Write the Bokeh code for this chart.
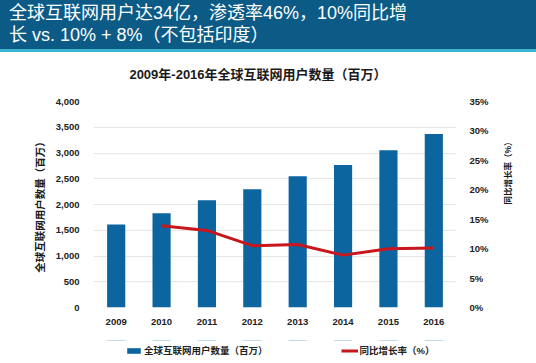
import math
from bokeh.plotting import figure
from bokeh.models import (Range1d, FactorRange, LinearAxis, SingleIntervalTicker,
                          NumeralTickFormatter, PrintfTickFormatter, Legend,
                          LegendItem, Div)
from bokeh.layouts import column
from bokeh.embed import file_html
from bokeh.resources import INLINE

# ---------------- data ----------------
years = ["2009", "2010", "2011", "2012", "2013", "2014", "2015", "2016"]
users = [1612, 1831, 2084, 2297, 2550, 2769, 3054, 3371]          # 百万
growth_years = ["2010", "2011", "2012", "2013", "2014", "2015", "2016"]
growth = [13.9, 13.1, 10.5, 10.7, 8.9, 10.0, 10.1]                 # %

header_lines = ["全球互联网用户达34亿，渗透率46%，10%同比增",
                "长 vs. 10% + 8%（不包括印度）"]
chart_title = "2009年-2016年全球互联网用户数量（百万）"
left_label = "全球互联网用户数量（百万）"
right_label = "同比增长率（%）"

# ---------------- style ----------------
W = 536
HEAD_H = 90
MAIN_H = 250
LEG_H = 363 - HEAD_H - MAIN_H
BAND = "#0c5b87"
STRIPE = "#3bb4d0"
BAR = "#0d65a0"
RED = "#c8161d"
GRID = "#e6e6e6"
FONT_H = "'Liberation Sans', 'Noto Sans CJK SC', sans-serif"
FONT_B = "'Liberation Sans', 'Noto Sans CJK SC', sans-serif"

# ---------------- header (band + chart title) ----------------
head_html = (
    f'<div style="background:{BAND}; height:52px; border-bottom:3px solid {STRIPE};'
    f' box-sizing:border-box; color:#ffffff; font-family:{FONT_H}; font-size:18px;'
    f' padding:2px 0 0 9px; width:{W}px;">'
    f'<div style="height:22px; line-height:22px;">{header_lines[0]}</div>'
    f'<div style="height:22px; line-height:22px;">{header_lines[1]}</div></div>'
    f'<div style="width:516px; text-align:center; margin-top:15px;'
    f' font-family:{FONT_B}; font-weight:bold; font-size:13px; line-height:16px;'
    f' color:#1a1a1a;">{chart_title}</div>'
)
head = Div(text=head_html, width=W, height=HEAD_H,
           styles={"margin": "0", "padding": "0"})

# ---------------- main chart ----------------
p = figure(width=W, height=MAIN_H, x_range=FactorRange(factors=years),
           y_range=Range1d(0, 4000), output_backend="svg", toolbar_location=None,
           min_border_left=93, min_border_right=80, min_border_top=11,
           min_border_bottom=MAIN_H - 11 - 206, outline_line_color=None)
p.background_fill_color = "white"
p.border_fill_color = "white"
p.extra_y_ranges = {"pct": Range1d(0, 35)}

bar_style = dict(fill_color=BAR, line_color=None)
line_style = dict(line_color=RED, line_width=3)

bars = p.vbar(x=years, top=users, width=0.4, **bar_style)
line = p.line(x=growth_years, y=growth, y_range_name="pct", **line_style)

p.xgrid.visible = False
p.ygrid.ticker = SingleIntervalTicker(interval=500)
p.ygrid.grid_line_color = GRID
p.ygrid.grid_line_width = 1

ya = p.yaxis[0]
ya.ticker = SingleIntervalTicker(interval=500)
ya.formatter = NumeralTickFormatter(format="0,0")
ya.axis_label = left_label
ya.axis_label_standoff = 7
ya.axis_label_text_font_size = "10.5px"

ra = LinearAxis(y_range_name="pct", ticker=SingleIntervalTicker(interval=5),
                formatter=PrintfTickFormatter(format="%d%%"))
ra.axis_label = right_label
ra.axis_label_standoff = 16
ra.axis_label_text_font_size = "8.5px"
if "axis_label_orientation" in ra.properties():
    ra.axis_label_orientation = math.pi / 2
p.add_layout(ra, "right")

for ax in [ya, ra, p.xaxis[0]]:
    ax.axis_line_color = None
    ax.major_tick_line_color = None
    ax.minor_tick_line_color = None
    ax.major_label_text_font = FONT_B
    ax.major_label_text_font_style = "bold"
    ax.major_label_text_font_size = "9.5px"
    ax.major_label_text_color = "#222222"
    ax.axis_label_text_font = FONT_B
    ax.axis_label_text_font_style = "bold"
    ax.axis_label_text_color = "#1a1a1a"
ya.major_label_standoff = 8
ra.major_label_standoff = 7
p.xaxis[0].major_label_standoff = 5

# ---------------- legend strip ----------------
# same series drawn into a strip whose visible y-window lies below zero, so
# only the legend (glyph swatches + labels) shows here
lg = figure(width=W, height=LEG_H, x_range=FactorRange(factors=years),
            y_range=Range1d(-2, -1), x_axis_location=None, y_axis_location=None,
            output_backend="svg", toolbar_location=None, min_border_left=93,
            min_border_right=80, min_border_top=0, min_border_bottom=0,
            outline_line_color=None)
lg.grid.visible = False
lg.background_fill_color = "white"
lg.border_fill_color = "white"
leg_bar = lg.vbar(x=years, top=users, width=0.4, **bar_style)
leg_line = lg.line(x=growth_years, y=growth, **line_style)

legend = Legend(items=[LegendItem(label=left_label, renderers=[leg_bar]),
                       LegendItem(label=right_label, renderers=[leg_line])],
                location=(32, 6), orientation="horizontal",
                glyph_width=17, glyph_height=7, label_height=10,
                label_standoff=2, spacing=73, padding=0, margin=0,
                label_text_font=FONT_B, label_text_font_style="bold",
                label_text_font_size="9.5px", label_text_color="#222222",
                border_line_color=None, background_fill_alpha=0)
lg.add_layout(legend)

layout = column(head, p, lg, spacing=0)
open("out.html", "w").write(file_html(layout, INLINE))
